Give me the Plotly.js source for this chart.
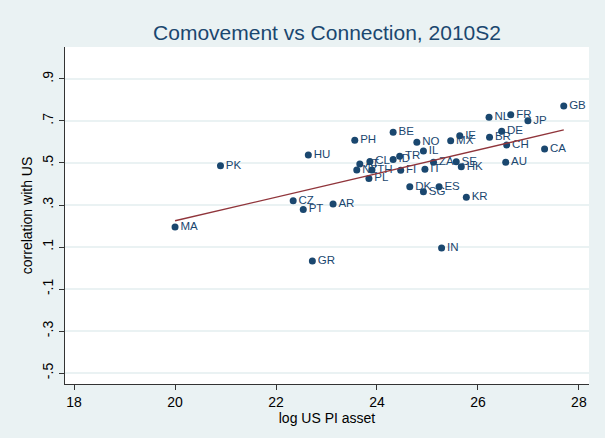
<!DOCTYPE html>
<html>
<head>
<meta charset="utf-8">
<script src="https://cdn.plot.ly/plotly-3.0.1.min.js"></script>
<style>html,body{margin:0;padding:0;background:#eaf2f3;}#chart{width:605px;height:438px;}</style>
</head>
<body>
<div id="chart"></div>
<script>
const countries = ["GB","FR","NL","JP","DE","BR","CH","CA","AU","IE","MX","BE","PH","NO","IL","TR","ID","ZA","SE","HK","FI","IT","DK","ES","SG","KR","AT","CL","NZ","TH","PL","HU","PK","CZ","PT","AR","MA","GR","IN"];
const logAsset = [27.70,26.65,26.22,26.99,26.47,26.23,26.57,27.32,26.55,25.64,25.46,24.32,23.56,24.79,24.92,24.45,24.32,25.12,25.57,25.67,24.47,24.95,24.65,25.23,24.92,25.77,23.66,23.86,23.60,23.90,23.84,22.64,20.90,22.34,22.54,23.13,20.00,22.72,25.28];
const corrUS = [0.771,0.729,0.718,0.701,0.651,0.622,0.586,0.567,0.503,0.630,0.606,0.646,0.608,0.599,0.557,0.532,0.516,0.504,0.506,0.482,0.465,0.470,0.387,0.387,0.363,0.337,0.495,0.507,0.467,0.467,0.426,0.538,0.487,0.320,0.279,0.305,0.195,0.033,0.095];
const fitX = [20.0, 27.7];
const fitY = [0.225, 0.657];
const yTickVals = [-0.5,-0.3,-0.1,0.1,0.3,0.5,0.7,0.9];
const yTickText = ["-.5","-.3","-.1",".1",".3",".5",".7",".9"];
const xTickVals = [18,20,22,24,26,28];

const navy = "#1a476f";
const traces = [
  {x: logAsset, y: corrUS, text: countries, mode: "markers+text", type: "scatter",
   textposition: "middle right", marker: {color: navy, size: 7},
   textfont: {family: "Liberation Sans, Arial, sans-serif", size: 11.5, color: navy},
   cliponaxis: false, hoverinfo: "none"},
  {x: fitX, y: fitY, mode: "lines", type: "scatter", line: {color: "#90353b", width: 1.3}, hoverinfo: "none"}
];
const layout = {
  width: 605, height: 438,
  paper_bgcolor: "#eaf2f3", plot_bgcolor: "#ffffff",
  margin: {l: 65, r: 16, t: 47, b: 54},
  showlegend: false,
  font: {family: "Liberation Sans, Arial, sans-serif", color: "#000"},
  title: {text: "Comovement vs Connection, 2010S2", x: 0.5, xref: "paper", xanchor: "center",
          y: 1 - 33/438, yref: "container", yanchor: "middle",
          font: {size: 21, color: navy, family: "Liberation Sans, Arial, sans-serif"}},
  xaxis: {range: [17.82, 28.2], tickvals: xTickVals, ticks: "outside", ticklen: 5, tickcolor: "#333",
          showgrid: false, zeroline: false, showline: true, linecolor: "#333", linewidth: 1,
          tickfont: {size: 14, color: "#000"},
          title: {text: "log US PI asset", font: {size: 14, color: "#000"}, standoff: 0}},
  yaxis: {range: [-0.552, 1.052], tickvals: yTickVals, ticktext: yTickText, tickangle: -90,
          ticks: "outside", ticklen: 5, tickcolor: "#333",
          showgrid: true, gridcolor: "#eaf2f3", gridwidth: 1.5, zeroline: false,
          showline: true, linecolor: "#333", linewidth: 1,
          tickfont: {size: 14, color: "#000"},
          title: {text: "correlation with US", font: {size: 14, color: "#000"}, standoff: 4}}
};
Plotly.newPlot("chart", traces, layout, {staticPlot: true, displayModeBar: false});
</script>
</body>
</html>
